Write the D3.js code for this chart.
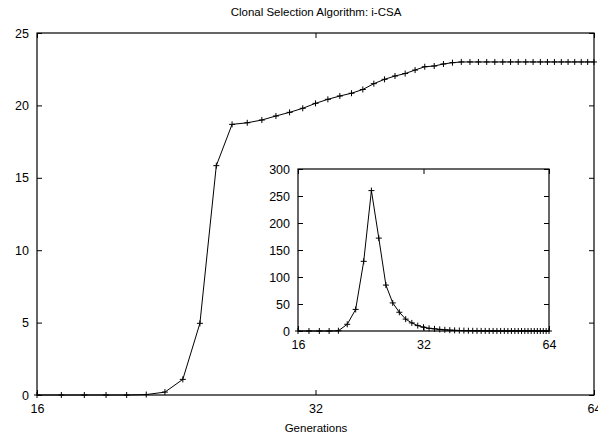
<!DOCTYPE html>
<html>
<head>
<meta charset="utf-8">
<script src="https://cdn.jsdelivr.net/npm/d3@7"></script>
<style>
	body { margin: 0; background: #fff; }
	svg { display: block; font-family: "Liberation Sans", Arial, sans-serif; }
	.tick text { font-size: 12.5px; fill: #000; }
</style>
</head>
<body>
<div id="chart"></div>
<script>
// generations (log2 x axis)
const generations = [16, 17, 18, 19, 20, 21, 22, 23, 24, 25, 26, 27, 28, 29, 30, 31, 32,
	33, 34, 35, 36, 37, 38, 39, 40, 41, 42, 43, 44, 45, 46, 47, 48,
	49, 50, 51, 52, 53, 54, 55, 56, 57, 58, 59, 60, 61, 62, 63, 64]

// main series
const fitness = [0, 0, 0, 0, 0, 0.03, 0.2, 1.08, 4.95, 15.84, 18.69, 18.8, 18.99, 19.27, 19.52, 19.8, 20.14,
	20.42, 20.65, 20.84, 21.1, 21.5, 21.8, 22.03, 22.2, 22.44, 22.67, 22.72, 22.86, 22.95, 23, 23, 23,
	23, 23, 23, 23, 23, 23, 23, 23, 23, 23, 23, 23, 23, 23, 23, 23]

// inset series
const insetValues = [0, 0, 0, 0, 0.5, 12.4, 40, 129, 260, 172, 85, 52, 34.7, 22, 15, 10, 7,
	5, 4, 3, 2.2, 1.6, 1.2, 0.9, 0.7, 0.5, 0.4, 0.3, 0.2, 0.2, 0.1, 0.1, 0.1,
	0.1, 0.1, 0, 0, 0, 0, 0, 0, 0, 0, 0, 0, 0, 0, 0, 0]

const xTicks = [16, 32, 64]
const mainYTicks = [0, 5, 10, 15, 20, 25]
const insetYTicks = [0, 50, 100, 150, 200, 250, 300]

const title = "Clonal Selection Algorithm: i-CSA"
const xLabel = "Generations"

const W = 598
const H = 440

const svg = d3.select("#chart")
	.append("svg")
	.attr("width", W)
	.attr("height", H)

function drawPanel(box, yDomain, yTicks, values) {
	const g = svg.append("g").attr("transform", `translate(${box.left},${box.top})`)

	const x = d3.scaleLog().base(2).domain([16, 64]).range([0, box.width])
	const y = d3.scaleLinear().domain(yDomain).range([box.height, 0])

	const tick = 5

	// axes with inward ticks
	const bottom = g.append("g")
		.attr("transform", `translate(0,${box.height})`)
		.call(d3.axisBottom(x).tickValues(xTicks).tickFormat(d3.format("d")).tickSizeInner(-tick).tickSizeOuter(0).tickPadding(9))
	const top = g.append("g")
		.call(d3.axisTop(x).tickValues(xTicks).tickFormat("").tickSizeInner(-tick).tickSizeOuter(0))
	const left = g.append("g")
		.call(d3.axisLeft(y).tickValues(yTicks).tickSizeInner(-tick).tickSizeOuter(0).tickPadding(8))
	const right = g.append("g")
		.attr("transform", `translate(${box.width},0)`)
		.call(d3.axisRight(y).tickValues(yTicks).tickFormat("").tickSizeInner(-tick).tickSizeOuter(0))

	;[bottom, top, left, right].forEach((a) => {
		a.select(".domain").remove()
		a.selectAll(".tick line").attr("stroke", "#000")
	})

	// frame
	g.append("rect")
		.attr("width", box.width)
		.attr("height", box.height)
		.attr("fill", "none")
		.attr("stroke", "#000")
		.attr("stroke-width", 1.2)

	const pts = generations.map((gen, i) => ({ gen, v: values[i] }))

	const line = d3.line()
		.x((d) => x(d.gen))
		.y((d) => y(d.v))

	g.append("path")
		.datum(pts)
		.attr("fill", "none")
		.attr("stroke", "#000")
		.attr("stroke-width", 1)
		.attr("d", line)

	// + markers
	const s = 3
	g.append("g")
		.selectAll("path")
		.data(pts)
		.join("path")
		.attr("fill", "none")
		.attr("stroke", "#000")
		.attr("stroke-width", 1)
		.attr("d", (d) => {
			const cx = x(d.gen)
			const cy = y(d.v)
			return `M${cx - s},${cy}H${cx + s}M${cx},${cy - s}V${cy + s}`
		})

	return g
}

// main panel
const main = { left: 37, top: 33, width: 557, height: 362 }
const mainG = drawPanel(main, [0, 25], mainYTicks, fitness)

// inset panel, white background so it covers the main plot
svg.append("rect")
	.attr("x", 298)
	.attr("y", 169)
	.attr("width", 251)
	.attr("height", 162)
	.attr("fill", "#fff")
const inset = { left: 298, top: 169, width: 251, height: 162 }
drawPanel(inset, [0, 300], insetYTicks, insetValues)

// title & x label
svg.append("text")
	.attr("x", 316)
	.attr("y", 16)
	.attr("text-anchor", "middle")
	.attr("font-size", "11.5px")
	.text(title)

svg.append("text")
	.attr("x", 316)
	.attr("y", 432)
	.attr("text-anchor", "middle")
	.attr("font-size", "11.5px")
	.text(xLabel)
</script>
</body>
</html>
